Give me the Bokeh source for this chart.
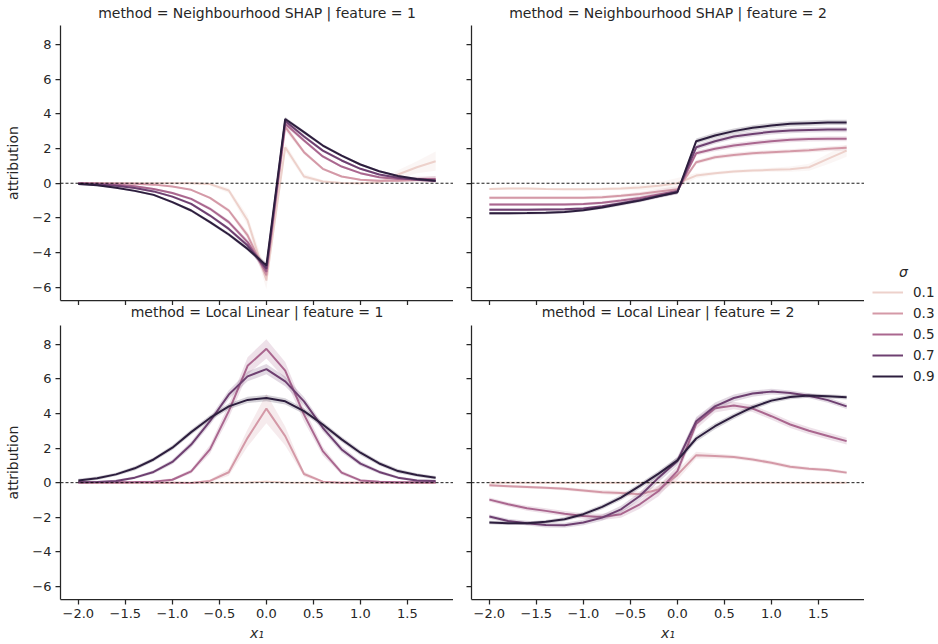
import numpy as np
from bokeh.plotting import figure
from bokeh.models import Range1d, FixedTicker, Span, Legend, LegendItem, Label
from bokeh.layouts import row, column
from bokeh.embed import file_html
from bokeh.resources import INLINE

# ---------------- data ----------------
x_vals = [-2.0, -1.8, -1.6, -1.4, -1.2, -1.0, -0.8, -0.6, -0.4, -0.2,
          0.0, 0.2, 0.4, 0.6, 0.8, 1.0, 1.2, 1.4, 1.6, 1.8]
sigmas = [0.1, 0.3, 0.5, 0.7, 0.9]
sigma_labels = ["0.1", "0.3", "0.5", "0.7", "0.9"]

# Neighbourhood SHAP, feature 1
nshap_f1_s01 = [0.0, 0.0, 0.0, 0.0, 0.0, 0.0, 0.0, -0.05, -0.42, -2.15, -5.6, 2.07, 0.39, 0.1, 0.02, 0.0, 0.05, 0.5, 0.92, 1.27]
nshap_f1_s03 = [0.0, 0.0, -0.01, -0.03, -0.08, -0.19, -0.38, -0.84, -1.57, -3.0, -5.3, 3.24, 1.79, 0.83, 0.39, 0.2, 0.15, 0.15, 0.18, 0.22]
nshap_f1_s05 = [0.0, -0.03, -0.08, -0.17, -0.33, -0.56, -0.9, -1.47, -2.24, -3.39, -5.1, 3.43, 2.46, 1.54, 0.96, 0.58, 0.35, 0.25, 0.25, 0.25]
nshap_f1_s07 = [-0.02, -0.07, -0.15, -0.28, -0.47, -0.77, -1.19, -1.86, -2.63, -3.59, -4.93, 3.58, 2.69, 1.88, 1.31, 0.83, 0.5, 0.31, 0.2, 0.13]
nshap_f1_s09 = [-0.05, -0.12, -0.26, -0.44, -0.67, -1.09, -1.57, -2.24, -2.95, -3.78, -4.74, 3.7, 2.94, 2.17, 1.59, 1.08, 0.69, 0.42, 0.25, 0.15]

nshap_f1_ci01 = [0.03, 0.03, 0.03, 0.03, 0.03, 0.03, 0.05, 0.08, 0.15, 0.3, 0.5, 0.25, 0.15, 0.08, 0.05, 0.05, 0.1, 0.25, 0.35, 0.55]
nshap_f1_ci03 = [0.02, 0.02, 0.02, 0.03, 0.03, 0.04, 0.05, 0.08, 0.12, 0.2, 0.35, 0.2, 0.12, 0.08, 0.06, 0.05, 0.06, 0.1, 0.15, 0.2]
nshap_f1_ci05 = [0.03, 0.03, 0.04, 0.05, 0.06, 0.07, 0.08, 0.1, 0.12, 0.15, 0.3, 0.15, 0.1, 0.08, 0.06, 0.06, 0.06, 0.08, 0.12, 0.15]
nshap_f1_ci07 = [0.04, 0.04, 0.05, 0.05, 0.06, 0.07, 0.08, 0.09, 0.1, 0.12, 0.22, 0.12, 0.1, 0.08, 0.07, 0.06, 0.06, 0.06, 0.07, 0.08]
nshap_f1_ci09 = [0.05, 0.05, 0.05, 0.06, 0.06, 0.07, 0.08, 0.09, 0.1, 0.11, 0.18, 0.11, 0.1, 0.09, 0.08, 0.07, 0.06, 0.06, 0.06, 0.07]

# Neighbourhood SHAP, feature 2
nshap_f2_s01 = [-0.33, -0.3, -0.3, -0.33, -0.35, -0.35, -0.33, -0.3, -0.25, -0.15, 0.0, 0.44, 0.58, 0.67, 0.73, 0.77, 0.81, 0.92, 1.4, 1.88]
nshap_f2_s03 = [-0.84, -0.84, -0.84, -0.84, -0.84, -0.84, -0.8, -0.72, -0.62, -0.48, -0.35, 1.21, 1.5, 1.63, 1.73, 1.79, 1.84, 1.9, 1.98, 2.04]
nshap_f2_s05 = [-1.23, -1.23, -1.23, -1.23, -1.22, -1.2, -1.12, -1.0, -0.85, -0.65, -0.45, 1.73, 1.98, 2.17, 2.3, 2.42, 2.5, 2.54, 2.56, 2.56]
nshap_f2_s07 = [-1.52, -1.52, -1.52, -1.51, -1.5, -1.45, -1.33, -1.15, -0.97, -0.73, -0.5, 2.07, 2.42, 2.69, 2.84, 2.96, 3.03, 3.07, 3.09, 3.09]
nshap_f2_s09 = [-1.73, -1.73, -1.72, -1.7, -1.65, -1.55, -1.4, -1.2, -1.0, -0.75, -0.52, 2.42, 2.75, 3.0, 3.19, 3.32, 3.42, 3.46, 3.5, 3.5]

nshap_f2_ci01 = [0.06, 0.06, 0.06, 0.06, 0.06, 0.07, 0.08, 0.1, 0.15, 0.2, 0.3, 0.15, 0.1, 0.1, 0.1, 0.12, 0.15, 0.2, 0.3, 0.35]
nshap_f2_ci03 = [0.08, 0.08, 0.08, 0.08, 0.08, 0.08, 0.09, 0.1, 0.12, 0.15, 0.18, 0.12, 0.12, 0.12, 0.12, 0.12, 0.12, 0.13, 0.14, 0.15]
nshap_f2_ci05 = [0.08, 0.08, 0.08, 0.08, 0.08, 0.08, 0.09, 0.1, 0.11, 0.12, 0.14, 0.14, 0.14, 0.14, 0.14, 0.14, 0.14, 0.14, 0.15, 0.15]
nshap_f2_ci07 = [0.08, 0.08, 0.08, 0.08, 0.08, 0.08, 0.08, 0.09, 0.1, 0.11, 0.12, 0.15, 0.15, 0.15, 0.15, 0.15, 0.15, 0.15, 0.15, 0.15]
nshap_f2_ci09 = [0.08, 0.08, 0.08, 0.08, 0.08, 0.08, 0.08, 0.09, 0.1, 0.1, 0.11, 0.15, 0.15, 0.15, 0.15, 0.15, 0.15, 0.15, 0.15, 0.15]

# Local Linear, feature 1
ll_f1_s01 = [0.0, 0.0, 0.0, 0.0, 0.0, 0.0, -0.01, 0.0, 0.0, 0.01, 0.05, 0.01, 0.0, 0.0, 0.0, 0.0, 0.0, 0.0, 0.0, 0.0]
ll_f1_s03 = [0.0, 0.0, 0.0, 0.0, 0.0, 0.0, -0.02, 0.1, 0.6, 2.59, 4.28, 2.69, 0.5, 0.06, 0.0, 0.0, 0.0, 0.0, 0.0, 0.0]
ll_f1_s05 = [0.02, 0.02, 0.03, 0.04, 0.06, 0.17, 0.65, 1.92, 4.13, 6.75, 7.73, 6.47, 3.93, 1.82, 0.58, 0.13, 0.05, 0.03, 0.02, 0.02]
ll_f1_s07 = [0.02, 0.04, 0.1, 0.29, 0.62, 1.2, 2.2, 3.55, 5.09, 6.14, 6.56, 5.85, 4.7, 3.17, 1.92, 1.1, 0.62, 0.29, 0.13, 0.1]
ll_f1_s09 = [0.13, 0.25, 0.48, 0.83, 1.34, 2.02, 2.92, 3.74, 4.41, 4.78, 4.89, 4.7, 4.13, 3.36, 2.5, 1.73, 1.11, 0.67, 0.44, 0.29]

ll_f1_ci01 = [0.02, 0.02, 0.02, 0.02, 0.02, 0.02, 0.02, 0.02, 0.03, 0.04, 0.06, 0.04, 0.03, 0.02, 0.02, 0.02, 0.02, 0.02, 0.02, 0.02]
ll_f1_ci03 = [0.02, 0.02, 0.02, 0.02, 0.02, 0.03, 0.04, 0.08, 0.2, 0.5, 0.85, 0.55, 0.15, 0.05, 0.03, 0.02, 0.02, 0.02, 0.02, 0.02]
ll_f1_ci05 = [0.04, 0.04, 0.05, 0.05, 0.06, 0.08, 0.12, 0.25, 0.4, 0.5, 0.55, 0.5, 0.4, 0.25, 0.12, 0.08, 0.06, 0.05, 0.05, 0.05]
ll_f1_ci07 = [0.06, 0.06, 0.07, 0.08, 0.1, 0.14, 0.18, 0.22, 0.25, 0.28, 0.3, 0.28, 0.25, 0.22, 0.18, 0.14, 0.1, 0.08, 0.07, 0.06]
ll_f1_ci09 = [0.1, 0.1, 0.1, 0.12, 0.12, 0.14, 0.15, 0.16, 0.17, 0.18, 0.18, 0.18, 0.17, 0.16, 0.15, 0.14, 0.12, 0.12, 0.1, 0.1]

# Local Linear, feature 2
ll_f2_s01 = [0.0, 0.0, 0.0, 0.0, 0.0, 0.0, 0.0, 0.0, 0.0, 0.0, 0.02, 0.01, 0.0, 0.0, 0.0, 0.0, 0.0, 0.0, 0.0, 0.0]
ll_f2_s03 = [-0.15, -0.2, -0.25, -0.3, -0.35, -0.45, -0.55, -0.6, -0.67, -0.4, 0.45, 1.59, 1.54, 1.48, 1.34, 1.15, 0.92, 0.81, 0.73, 0.58]
ll_f2_s05 = [-0.98, -1.25, -1.48, -1.63, -1.79, -1.92, -1.98, -1.82, -1.25, -0.48, 0.67, 3.4, 4.3, 4.46, 4.28, 3.84, 3.36, 3.0, 2.7, 2.4]
ll_f2_s07 = [-1.96, -2.21, -2.34, -2.44, -2.46, -2.3, -2.02, -1.54, -0.77, 0.29, 1.25, 3.55, 4.41, 4.89, 5.15, 5.26, 5.18, 5.02, 4.77, 4.41]
ll_f2_s09 = [-2.3, -2.34, -2.34, -2.26, -2.11, -1.82, -1.4, -0.86, -0.19, 0.52, 1.29, 2.55, 3.26, 3.84, 4.36, 4.74, 4.95, 5.03, 4.99, 4.93]

ll_f2_ci01 = [0.02, 0.02, 0.02, 0.02, 0.02, 0.02, 0.02, 0.02, 0.02, 0.03, 0.04, 0.03, 0.02, 0.02, 0.02, 0.02, 0.02, 0.02, 0.02, 0.02]
ll_f2_ci03 = [0.08, 0.08, 0.08, 0.08, 0.1, 0.1, 0.12, 0.14, 0.18, 0.25, 0.3, 0.2, 0.15, 0.12, 0.12, 0.12, 0.12, 0.1, 0.1, 0.1]
ll_f2_ci05 = [0.12, 0.12, 0.14, 0.15, 0.15, 0.16, 0.18, 0.2, 0.25, 0.3, 0.3, 0.3, 0.25, 0.22, 0.2, 0.2, 0.2, 0.2, 0.2, 0.2]
ll_f2_ci07 = [0.12, 0.12, 0.14, 0.15, 0.15, 0.16, 0.18, 0.2, 0.22, 0.25, 0.25, 0.25, 0.22, 0.2, 0.18, 0.16, 0.15, 0.15, 0.15, 0.15]
ll_f2_ci09 = [0.1, 0.1, 0.1, 0.1, 0.12, 0.13, 0.14, 0.15, 0.16, 0.17, 0.18, 0.18, 0.17, 0.16, 0.15, 0.14, 0.13, 0.12, 0.12, 0.12]

panel_titles = ["method = Neighbourhood SHAP | feature = 1",
                "method = Neighbourhood SHAP | feature = 2",
                "method = Local Linear | feature = 1",
                "method = Local Linear | feature = 2"]

x_ticks = [-2.0, -1.5, -1.0, -0.5, 0.0, 0.5, 1.0, 1.5]
x_tick_labels = ["\u22122.0", "\u22121.5", "\u22121.0", "\u22120.5", "0.0", "0.5", "1.0", "1.5"]
y_ticks = [-6, -4, -2, 0, 2, 4, 6, 8]
y_tick_labels = ["\u22126", "\u22124", "\u22122", "0", "2", "4", "6", "8"]

panels = [
    ([nshap_f1_s01, nshap_f1_s03, nshap_f1_s05, nshap_f1_s07, nshap_f1_s09],
     [nshap_f1_ci01, nshap_f1_ci03, nshap_f1_ci05, nshap_f1_ci07, nshap_f1_ci09]),
    ([nshap_f2_s01, nshap_f2_s03, nshap_f2_s05, nshap_f2_s07, nshap_f2_s09],
     [nshap_f2_ci01, nshap_f2_ci03, nshap_f2_ci05, nshap_f2_ci07, nshap_f2_ci09]),
    ([ll_f1_s01, ll_f1_s03, ll_f1_s05, ll_f1_s07, ll_f1_s09],
     [ll_f1_ci01, ll_f1_ci03, ll_f1_ci05, ll_f1_ci07, ll_f1_ci09]),
    ([ll_f2_s01, ll_f2_s03, ll_f2_s05, ll_f2_s07, ll_f2_s09],
     [ll_f2_ci01, ll_f2_ci03, ll_f2_ci05, ll_f2_ci07, ll_f2_ci09]),
]

# ---------------- colours (seaborn default cubehelix "ch:") ----------------
def cubehelix_hex(t, start=0.0, rot=0.4, gamma=1.0, hue=0.8):
    xg = t ** gamma
    a = hue * xg * (1 - xg) / 2
    phi = 2 * np.pi * (start / 3 + rot * t)
    r = xg + a * (-0.14861 * np.cos(phi) + 1.78277 * np.sin(phi))
    g = xg + a * (-0.29227 * np.cos(phi) - 0.90649 * np.sin(phi))
    b = xg + a * (1.97294 * np.cos(phi))
    rgb = [int(round(min(max(c, 0), 1) * 255)) for c in (r, g, b)]
    return "#%02x%02x%02x" % tuple(rgb)

smin, smax = min(sigmas), max(sigmas)
colors = [cubehelix_hex(0.85 - 0.70 * (s - smin) / (smax - smin)) for s in sigmas]

TEXT = "#262626"
FONT = "'DejaVu Sans'"
FRAME_W = 393
LEFT_B = 60
RIGHT_B = 18

x_range = Range1d(-2.19, 1.99)
y_range = Range1d(-6.75, 9.08)


def blank_fig(w, h):
    f = figure(width=w, height=h, x_range=Range1d(0, 1), y_range=Range1d(0, 1),
               output_backend="svg", toolbar_location=None, min_border=0)
    f.xaxis.visible = False
    f.yaxis.visible = False
    f.xgrid.visible = False
    f.ygrid.visible = False
    f.outline_line_color = None
    return f


def title_strip(idx, left_border, h, y_center_from_top):
    f = blank_fig(left_border + FRAME_W, h)
    f.add_layout(Label(x=left_border + FRAME_W / 2, y=h - y_center_from_top,
                       x_units="screen", y_units="screen",
                       text=panel_titles[idx], text_font=FONT, text_font_size="14px",
                       text_color=TEXT, text_align="center", text_baseline="middle"))
    return f


def make_panel(idx, show_x, show_y, bl, bb, fh):
    p = figure(frame_width=FRAME_W, frame_height=fh, x_range=x_range, y_range=y_range,
               output_backend="svg", toolbar_location=None,
               min_border_left=bl, min_border_right=0,
               min_border_top=0, min_border_bottom=bb)
    p.xgrid.visible = False
    p.ygrid.visible = False
    p.outline_line_color = None
    p.background_fill_color = "white"
    p.border_fill_color = "white"

    for ax in (p.xaxis[0], p.yaxis[0]):
        ax.axis_line_color = TEXT
        ax.axis_line_width = 1.25
        ax.major_tick_line_color = TEXT
        ax.major_tick_line_width = 1.25
        ax.major_tick_out = 5
        ax.major_tick_in = 0
        ax.minor_tick_out = 0
        ax.minor_tick_in = 0
        ax.major_label_text_font = FONT
        ax.major_label_text_font_size = "13px"
        ax.major_label_text_color = TEXT
        ax.axis_label_text_font = FONT
        ax.axis_label_text_font_size = "14px"
        ax.axis_label_text_color = TEXT

    p.xaxis.ticker = FixedTicker(ticks=x_ticks)
    p.yaxis.ticker = FixedTicker(ticks=y_ticks)
    if show_x:
        p.xaxis.major_label_overrides = dict(zip(x_ticks, x_tick_labels))
        p.xaxis.major_label_standoff = 4
        p.xaxis.axis_label = "x\u2081"
        p.xaxis.axis_label_text_font_style = "italic"
        p.xaxis.axis_label_standoff = 4
    else:
        p.xaxis.major_label_overrides = {t: "" for t in x_ticks}
        p.xaxis.major_label_text_font_size = "0px"
        p.xaxis.major_label_standoff = 0
    if show_y:
        p.yaxis.major_label_overrides = dict(zip(y_ticks, y_tick_labels))
        p.yaxis.major_label_standoff = 4
        p.yaxis.axis_label = "attribution"
        p.yaxis.axis_label_text_font_style = "normal"
        p.yaxis.axis_label_standoff = 8
    else:
        p.yaxis.major_label_overrides = {t: "" for t in y_ticks}
        p.yaxis.major_label_text_font_size = "0px"
        p.yaxis.major_label_standoff = 0

    series, cis = panels[idx]
    for ys, ci, c in zip(series, cis, colors):
        ya = np.array(ys)
        ca = np.array(ci)
        p.varea(x=x_vals, y1=list(ya - ca), y2=list(ya + ca), fill_color=c, fill_alpha=0.2)
        p.line(x=x_vals, y=ys, line_color=c, line_width=2)

    p.add_layout(Span(location=0, dimension="width", line_color="black",
                      line_dash="3 2", line_width=0.9))
    return p


# top row: strip (25) + panels (275 + 5)
t_tl = title_strip(0, LEFT_B, 25, 12)
t_tr = title_strip(1, RIGHT_B, 25, 12)
tl = make_panel(0, False, True, LEFT_B, 5, 275)
tr = make_panel(1, False, False, RIGHT_B, 5, 275)
# bottom row: strip (20) + panels (274 + 45)
t_bl = title_strip(2, LEFT_B, 20, 6)
t_br = title_strip(3, RIGHT_B, 20, 6)
bl = make_panel(2, True, True, LEFT_B, 45, 274)
br = make_panel(3, True, False, RIGHT_B, 45, 274)

# legend figure
lf = blank_fig(74, 644)
items = []
for lab, c in zip(sigma_labels, colors):
    r = lf.line(x=[-5, -4], y=[-5, -4], line_color=c, line_width=2)
    items.append(LegendItem(label=lab, renderers=[r]))
leg = Legend(items=items, location=(8, 258), glyph_width=31, glyph_height=20,
             label_standoff=10, spacing=1, padding=0, margin=0,
             border_line_color=None, background_fill_alpha=0,
             label_text_font=FONT, label_text_font_size="13.5px",
             label_text_color=TEXT)
lf.add_layout(leg)
lf.add_layout(Label(x=39, y=644 - 271, x_units="screen", y_units="screen",
                    text="\u03c3", text_font=FONT, text_font_size="14px",
                    text_font_style="italic", text_align="center",
                    text_baseline="middle", text_color=TEXT))

grid = column(row(t_tl, t_tr), row(tl, tr), row(t_bl, t_br), row(bl, br))
layout = row(grid, lf)

open("out.html", "w").write(file_html(layout, INLINE))
